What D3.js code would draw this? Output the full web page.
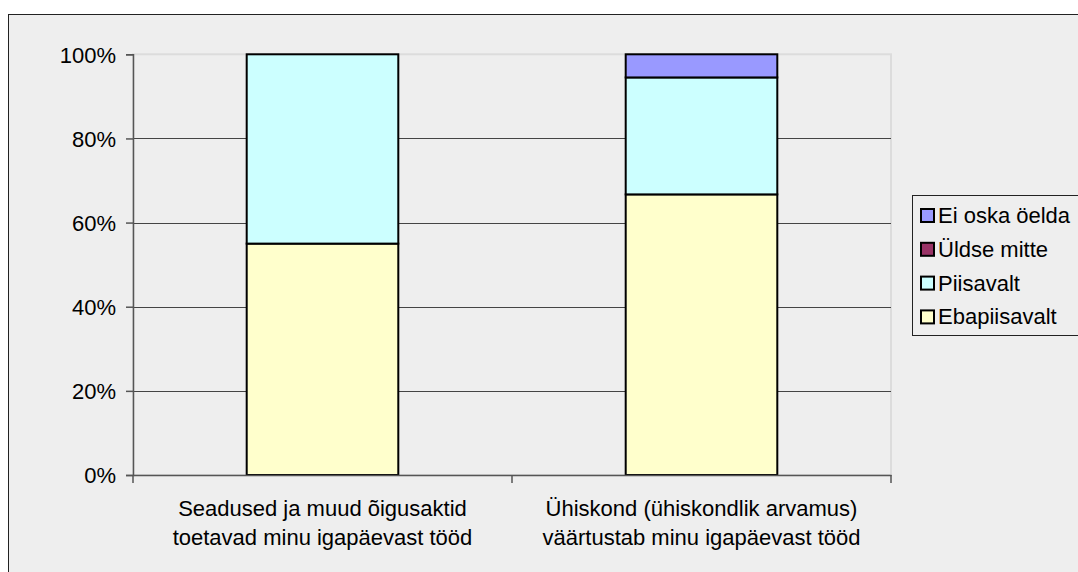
<!DOCTYPE html>
<html>
<head>
<meta charset="utf-8">
<script src="https://cdn.jsdelivr.net/npm/d3@7"></script>
<style>
  body { margin: 0; background: #fff; }
  svg text { font-family: Arial, "Liberation Sans", sans-serif; fill: #000; }
</style>
</head>
<body>
<div id="chart"></div>
<script>
// categories (two lines each) and series values in percent
var categories = ["Seadused ja muud õigusaktid|toetavad minu igapäevast tööd",
  "Ühiskond (ühiskondlik arvamus)|väärtustab minu igapäevast tööd"];
var seriesNames = ["Ebapiisavalt", "Piisavalt", "Üldse mitte", "Ei oska öelda"];
var ebapiisavalt = [55, 66.7];
var piisavalt = [45, 27.8];
var yldseMitte = [0, 0];
var eiOska = [0, 5.5];
var yTicks = [0, 20, 40, 60, 80, 100];
var colors = ["#FFFFCC", "#CCFFFF", "#993366", "#9999FF"];

var width = 1078, height = 572;
var plotLeft = 133, plotRight = 891, plotTop = 54.3, plotBottom = 475;

var svg = d3.select("#chart").append("svg").attr("width", width).attr("height", height);

// chart area (runs past right and bottom edge)
svg.append("rect").attr("x", 8.5).attr("y", 14.5).attr("width", 1100).attr("height", 600)
  .attr("fill", "#EEEEEE").attr("stroke", "#222").attr("stroke-width", 1);

var rows = categories.map(function(c, i) {
  return {cat: c, "Ebapiisavalt": ebapiisavalt[i], "Piisavalt": piisavalt[i],
    "Üldse mitte": yldseMitte[i], "Ei oska öelda": eiOska[i]};
});
var stacked = d3.stack().keys(seriesNames)(rows);

var x = d3.scaleBand().domain(categories).range([plotLeft, plotRight]);
var y = d3.scaleLinear().domain([0, 100]).range([plotBottom, plotTop]);
var barW = x.bandwidth() * 0.4;

// plot area border
svg.append("rect").attr("x", plotLeft).attr("y", plotTop).attr("width", plotRight - plotLeft)
  .attr("height", plotBottom - plotTop)
  .attr("fill", "none").attr("stroke", "#DCDCDC").attr("stroke-width", 2);

// gridlines
svg.append("g").selectAll("line").data(yTicks.filter(function(d) { return d > 0 && d < 100; }))
  .enter().append("line")
  .attr("x1", plotLeft).attr("x2", plotRight)
  .attr("y1", function(d) { return Math.round(y(d)) + 0.5; })
  .attr("y2", function(d) { return Math.round(y(d)) + 0.5; })
  .attr("stroke", "#444").attr("stroke-width", 1);

// bars
var g = svg.append("g").selectAll("g").data(stacked).enter().append("g")
  .attr("fill", function(d, i) { return colors[i]; });
g.selectAll("rect").data(function(d) { return d.filter(function(p) { return p[1] - p[0] > 0; }); })
  .enter().append("rect")
  .attr("x", function(d) { return x(d.data.cat) + (x.bandwidth() - barW) / 2; })
  .attr("y", function(d) { return y(d[1]); })
  .attr("width", barW)
  .attr("height", function(d) { return y(d[0]) - y(d[1]); })
  .attr("stroke", "#000").attr("stroke-width", 2);

// y axis
var yAxis = svg.append("g").attr("transform", "translate(" + plotLeft + ",0)")
  .call(d3.axisLeft(y).tickValues(yTicks).tickSize(7).tickPadding(10)
    .tickFormat(function(d) { return d + "%"; }));
yAxis.select(".domain").attr("stroke", "#555").attr("stroke-width", 1.5);
yAxis.selectAll(".tick line").attr("stroke", "#555").attr("stroke-width", 1.5);
yAxis.selectAll("text").attr("font-size", "22px").attr("dy", "0.36em")
  .style("font-family", "Arial, 'Liberation Sans', sans-serif").attr("fill", "#000");

// x axis
var xAxis = svg.append("g").attr("transform", "translate(0," + plotBottom + ")")
  .call(d3.axisBottom(x).tickSize(0).tickFormat(""));
xAxis.select(".domain").attr("stroke", "#555").attr("stroke-width", 1.5);
xAxis.selectAll(".tick").remove();
svg.append("g").selectAll("line").data([plotLeft, x(categories[1]), plotRight]).enter().append("line")
  .attr("x1", function(d) { return d; }).attr("x2", function(d) { return d; })
  .attr("y1", plotBottom).attr("y2", plotBottom + 8)
  .attr("stroke", "#555").attr("stroke-width", 1.5);

// category labels
var lbl = svg.append("g").selectAll("text").data(categories).enter().append("text")
  .attr("text-anchor", "middle").attr("font-size", "22px")
  .attr("x", function(d) { return x(d) + x.bandwidth() / 2; })
  .attr("y", 516);
lbl.selectAll("tspan").data(function(d) { return d.split("|"); }).enter().append("tspan")
  .attr("x", function() { return d3.select(this.parentNode).attr("x"); })
  .attr("dy", function(d, i) { return i == 0 ? 0 : 29; })
  .text(function(d) { return d; });

// legend
var legend = svg.append("g");
legend.append("rect").attr("x", 912.5).attr("y", 195.5).attr("width", 200).attr("height", 140)
  .attr("fill", "#EEEEEE").attr("stroke", "#222").attr("stroke-width", 1);
var items = legend.selectAll("g.item").data(seriesNames.slice().reverse()).enter().append("g")
  .attr("class", "item")
  .attr("transform", function(d, i) { return "translate(0," + (223 + i * 33.8) + ")"; });
items.append("rect").attr("x", 921).attr("y", -14).attr("width", 13).attr("height", 13)
  .attr("fill", function(d) { return colors[seriesNames.indexOf(d)]; })
  .attr("stroke", "#000").attr("stroke-width", 2);
items.append("text").attr("x", 938).attr("y", 0).attr("font-size", "22px").text(function(d) { return d; });
</script>
</body>
</html>
